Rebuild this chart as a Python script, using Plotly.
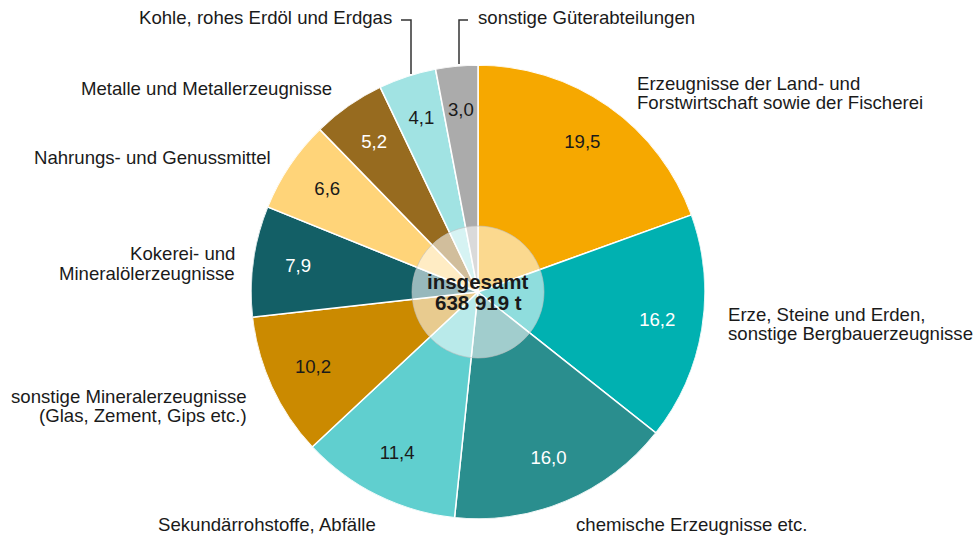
import plotly.graph_objects as go

W, H = 975, 537

categories = [
    "Erzeugnisse der Land- und<br>Forstwirtschaft sowie der Fischerei",
    "Erze, Steine und Erden,<br>sonstige Bergbauerzeugnisse",
    "chemische Erzeugnisse etc.",
    "Sekundärrohstoffe, Abfälle",
    "sonstige Mineralerzeugnisse<br>(Glas, Zement, Gips etc.)",
    "Kokerei- und<br>Mineralölerzeugnisse",
    "Nahrungs- und Genussmittel",
    "Metalle und Metallerzeugnisse",
    "Kohle, rohes Erdöl und Erdgas",
    "sonstige Güterabteilungen",
]
values = [19.5, 16.2, 16.0, 11.4, 10.2, 7.9, 6.6, 5.2, 4.1, 3.0]
total_lines = ["insgesamt", "638 919 t"]

colors = ["#F6A800", "#00B1B1", "#2A8E8E", "#60CFCF", "#CB8A00",
          "#135F66", "#FFD479", "#976B1F", "#A1E3E3", "#ABABAB"]
text_colors = ["#1a1a1a", "white", "white", "#1a1a1a", "#1a1a1a",
               "white", "#1a1a1a", "white", "#1a1a1a", "#1a1a1a"]

FONT = "Liberation Sans, Arial, Helvetica, sans-serif"
FS = 18.6


def px(x):
    return x / W


def py(y):
    return 1 - y / H


cx, cy, R = 478, 292, 227
dom = dict(x=[px(cx - R), px(cx + R)], y=[py(cy + R), py(cy - R)])

# slice geometry derived from the values (share of full circle)
total = sum(values)
mids, widths = [], []
acc = 0.0
for v in values:
    mids.append((acc + v / 2) / total * 360)
    widths.append(v / total * 360)
    acc += v

fig = go.Figure()
fig.add_trace(go.Barpolar(
    r=[1] * len(values),
    theta=mids,
    width=widths,
    marker=dict(color=colors, line=dict(color="white", width=1.5)),
    hovertext=[c.replace("<br>", " ") for c in categories],
    hoverinfo="text",
    showlegend=False,
))

fig.add_trace(go.Scatterpolar(
    r=[0.8] * len(values),
    theta=mids,
    mode="text",
    text=[f"{v:.1f}".replace(".", ",") for v in values],
    textfont=dict(family=FONT, size=FS, color=text_colors),
    textposition="middle center",
    showlegend=False,
    hoverinfo="skip",
))

# outside label positions (pixel): x, y of first line, anchor, line gap
label_pos = [
    (635, 83, "left", 20),
    (726, 314, "left", 19),
    (574, 524, "left", 20),
    (378, 524, "right", 20),
    (249, 396, "right", 19),
    (237, 253, "right", 20),
    (273, 157, "right", 20),
    (334, 88, "right", 20),
    (394, 18, "right", 20),
    (476, 18, "left", 20),
]

annotations = []
for cat, (x, y, xa, gap) in zip(categories, label_pos):
    for i, line in enumerate(cat.split("<br>")):
        annotations.append(dict(
            x=px(x), y=py(y + i * gap), xref="paper", yref="paper",
            text=line, showarrow=False, xanchor=xa, yanchor="middle", align=xa,
            font=dict(family=FONT, size=FS, color="#1a1a1a"),
        ))

for i, line in enumerate(total_lines):
    annotations.append(dict(
        x=px(cx), y=py(cy - 11 + i * 21), xref="paper", yref="paper",
        text="<b>" + line + "</b>",
        showarrow=False, xanchor="center", yanchor="middle", align="center",
        font=dict(family=FONT, size=20.5, color="#1a1a1a"),
    ))

r0 = 66
shapes = [
    dict(type="circle", xref="paper", yref="paper",
         x0=px(cx - r0), x1=px(cx + r0), y0=py(cy + r0), y1=py(cy - r0),
         fillcolor="rgba(255,255,255,0.56)",
         line=dict(color="rgba(190,190,190,0.6)", width=1)),
    dict(type="path", xref="paper", yref="paper",
         path=f"M {px(401)} {py(20)} L {px(411)} {py(20)} L {px(411)} {py(74)}",
         line=dict(color="#333333", width=1.5)),
    dict(type="path", xref="paper", yref="paper",
         path=f"M {px(468)} {py(20)} L {px(459)} {py(20)} L {px(459)} {py(64)}",
         line=dict(color="#333333", width=1.5)),
]

fig.update_layout(
    width=W, height=H,
    margin=dict(l=0, r=0, t=0, b=0),
    paper_bgcolor="white",
    plot_bgcolor="white",
    annotations=annotations,
    shapes=shapes,
    polar=dict(
        domain=dom,
        bgcolor="rgba(0,0,0,0)",
        hole=0,
        bargap=0,
        radialaxis=dict(visible=False, range=[0, 1]),
        angularaxis=dict(visible=False, rotation=90, direction="clockwise",
                         showgrid=False, showline=False, showticklabels=False),
    ),
)

fig.write_html("out.html", config={"displayModeBar": False},
               post_script="document.body.style.margin='0px';")
